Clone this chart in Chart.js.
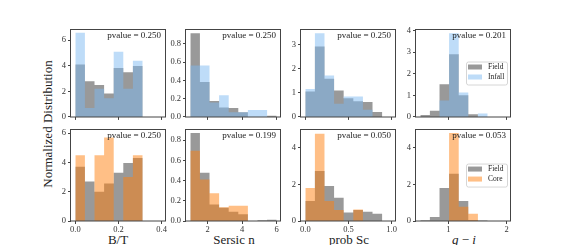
<!DOCTYPE html>
<html>
<head>
<meta charset="utf-8">
<script src="https://cdn.jsdelivr.net/npm/chart.js@4.4.1/dist/chart.umd.min.js"></script>
<style>
  body { margin: 0; background: #fff; width: 568px; height: 245px; overflow: hidden; position: relative; font-family: "Liberation Serif", serif; }
  canvas { position: absolute; }
  .lbl { position: absolute; font-size: 13px; line-height: 13px; color: #222; white-space: nowrap; }
</style>
</head>
<body>
<div class="lbl" id="ylab" style="left:47px;top:124px;transform:translate(-50%,-50%) rotate(-90deg);">Normalized Distribution</div>
<div class="lbl" style="left:118px;top:233px;transform:translateX(-50%);">B/T</div>
<div class="lbl" style="left:234px;top:233px;transform:translateX(-50%);">Sersic n</div>
<div class="lbl" style="left:349px;top:233px;transform:translateX(-50%);">prob Sc</div>
<div class="lbl" style="left:464px;top:233px;transform:translateX(-50%);"><i>g</i> &minus; <i>i</i></div>
<script>
// bin edges for each variable
const btEdges = [0, 0.0444, 0.0889, 0.1333, 0.1778, 0.2222, 0.2667, 0.3111, 0.3556, 0.4];
const sersicEdges = [1, 1.556, 2.111, 2.667, 3.222, 3.778, 4.333, 4.889, 5.444, 6];
const probScEdges = [0, 0.111, 0.222, 0.333, 0.444, 0.556, 0.667, 0.778, 0.889, 1];
const giEdges = [0.52, 0.684, 0.849, 1.013, 1.178, 1.342, 1.507, 1.671, 1.836, 2.0];

// top row: Field vs Infall
const btField = [4.1, 2.78, 2.5, 1.83, 3.83, 3.48, 3.98, 0, 0];
const btInfall = [6.58, 0.7, 2.2, 1.45, 5.1, 2.2, 4.38, 0, 0];
const sersicField = [0.918, 0.383, 0.174, 0.104, 0.097, 0.052, 0, 0, 0.013];
const sersicInfall = [0.563, 0.563, 0.157, 0.237, 0.052, 0.052, 0.077, 0.077, 0];
const probScField = [1.06, 2.93, 1.59, 1.1, 0.78, 0.65, 0.62, 0.2, 0];
const probScInfall = [1.16, 3.49, 1.73, 0.55, 0.85, 0.85, 0.3, 0, 0];
const giField = [0.09, 0.29, 1.51, 2.9, 1.0, 0.12, 0, 0, 0];
const giInfall = [0, 0, 0.76, 3.88, 1.13, 0, 0.16, 0, 0];

// bottom row: Field vs Core
const btField2 = [3.7, 2.69, 2.0, 2.55, 3.3, 3.95, 4.29, 0, 0];
const btCore = [4.49, 0, 4.49, 5.69, 0, 3.0, 4.49, 0, 0];
const sersicField2 = [0.869, 0.477, 0.163, 0.13, 0.091, 0.066, 0, 0.008, 0.013];
const sersicCore = [0.693, 0.41, 0.275, 0.137, 0.15, 0.15, 0, 0, 0];
const probScField2 = [1.09, 2.73, 1.92, 1.27, 0.47, 0.6, 0.51, 0.4, 0];
const probScCore = [1.81, 4.78, 1.09, 0.6, 0, 0.63, 0, 0, 0];
const giField2 = [0.04, 0.22, 1.81, 2.59, 1.1, 0.05, 0.03, 0, 0];
const giCore = [0, 0, 0, 4.81, 0.78, 0.4, 0, 0, 0];

const pvaluesTop = ["0.250", "0.250", "0.250", "0.201"];
const pvaluesBottom = ["0.250", "0.199", "0.050", "0.053"];

const grayCol = "rgba(128,128,128,0.8)";
const blueCol = "rgba(125,185,241,0.5)";
const orangeCol = "rgba(255,127,14,0.5)";
const axisCol = "#444";
const fontFam = "'Liberation Serif', serif";

const colX = [71, 186, 301, 416];
const rowY = [28, 128];
const panelW = 95;
const panelH = [92, 93];
const yAxisW = 24;
const padTop = 6, padRight = 6;

// histogram outline points: one per bin edge, last edge repeats last height
function histPoints(edges, vals) {
  const pts = vals.map((v, i) => ({ x: edges[i], y: v }));
  pts.push({ x: edges[edges.length - 1], y: vals[vals.length - 1] });
  return pts;
}

const framePlugin = {
  id: "frame",
  afterDraw(chart, args, opts) {
    const ctx = chart.ctx;
    const a = chart.chartArea;
    ctx.save();
    ctx.strokeStyle = axisCol;
    ctx.lineWidth = 1;
    ctx.strokeRect(Math.round(a.left) - 0.5, Math.round(a.top) + 0.5, Math.round(a.right - a.left), Math.round(a.bottom - a.top) - 0.5);
    ctx.fillStyle = "#222";
    ctx.font = "9px " + fontFam;
    ctx.textAlign = "right";
    ctx.textBaseline = "middle";
    ctx.fillText("pvalue = " + opts.pvalue, a.right - 5, a.top + 6.5);
    if (opts.legend) {
      const bw = 41, bh = 23;
      const bx = a.right - 4 - bw;
      const by = (a.top + a.bottom) / 2 - bh / 2;
      ctx.fillStyle = "rgba(255,255,255,0.8)";
      ctx.strokeStyle = "#ccc";
      ctx.lineWidth = 0.8;
      ctx.beginPath();
      ctx.roundRect(bx + 0.5, by + 0.5, bw, bh, 2);
      ctx.fill();
      ctx.stroke();
      ctx.font = "7.5px " + fontFam;
      ctx.textAlign = "left";
      chart.data.datasets.forEach((ds, i) => {
        const ry = by + 3 + i * 10;
        ctx.fillStyle = "#fff";
        ctx.fillRect(bx + 2, ry, 14, 5);
        ctx.fillStyle = ds.backgroundColor;
        ctx.fillRect(bx + 2, ry, 14, 5);
        ctx.fillStyle = "#222";
        ctx.fillText(ds.label, bx + 22, ry + 2.5);
      });
    }
    ctx.restore();
  }
};

function makePanel(row, col, cfg) {
  const xAxisH = row === 0 ? 4 : 14;
  const cv = document.createElement("canvas");
  const w = yAxisW + panelW + padRight;
  const h = padTop + panelH[row] + xAxisH;
  cv.width = w;
  cv.height = h;
  cv.style.left = (colX[col] - yAxisW) + "px";
  cv.style.top = (rowY[row] - padTop) + "px";
  cv.style.width = w + "px";
  cv.style.height = h + "px";
  document.body.appendChild(cv);
  const histStyle = { stepped: true, fill: "origin", pointRadius: 0, borderWidth: 0, borderColor: "rgba(0,0,0,0)" };
  new Chart(cv, {
    type: "line",
    data: {
      datasets: [
        { label: "Field", data: histPoints(cfg.edges, cfg.field), backgroundColor: grayCol, order: 2, ...histStyle },
        { label: cfg.otherName, data: histPoints(cfg.edges, cfg.other), backgroundColor: cfg.otherCol, order: 1, ...histStyle }
      ]
    },
    options: {
      responsive: false,
      animation: false,
      devicePixelRatio: 1,
      layout: { padding: { top: padTop, right: padRight, left: 0, bottom: 0 } },
      plugins: {
        legend: { display: false },
        tooltip: { enabled: false },
        frame: { pvalue: cfg.pvalue, legend: cfg.legend }
      },
      scales: {
        x: {
          type: "linear",
          min: cfg.xmin,
          max: cfg.xmax,
          afterFit: (s) => { s.height = xAxisH; },
          border: { display: false },
          grid: { drawOnChartArea: false, drawTicks: true, tickLength: 3, color: axisCol },
          ticks: {
            display: row === 1,
            stepSize: cfg.xstep,
            includeBounds: false,
            maxRotation: 0,
            padding: 1,
            color: "#333",
            font: { family: fontFam, size: 8.5 },
            callback: (v) => v.toFixed(cfg.xdec)
          }
        },
        y: {
          min: 0,
          max: cfg.ymax,
          afterFit: (s) => { s.width = yAxisW; },
          border: { display: false },
          grid: { drawOnChartArea: false, drawTicks: true, tickLength: 3, color: axisCol },
          ticks: {
            stepSize: cfg.ystep,
            includeBounds: false,
            padding: 2,
            color: "#333",
            font: { family: fontFam, size: 8.5 },
            callback: (v) => v.toFixed(cfg.ydec)
          }
        }
      }
    },
    plugins: [framePlugin]
  });
}

const btX = { edges: btEdges, xmin: -0.02, xmax: 0.42, xstep: 0.2, xdec: 1 };
const sersicX = { edges: sersicEdges, xmin: 0.75, xmax: 6.25, xstep: 2, xdec: 0 };
const probScX = { edges: probScEdges, xmin: -0.05, xmax: 1.05, xstep: 0.5, xdec: 1 };
const giX = { edges: giEdges, xmin: 0.446, xmax: 2.074, xstep: 1, xdec: 0 };

makePanel(0, 0, { ...btX, field: btField, other: btInfall, otherName: "Infall", otherCol: blueCol, ymax: 6.86, ystep: 2, ydec: 0, pvalue: pvaluesTop[0] });
makePanel(0, 1, { ...sersicX, field: sersicField, other: sersicInfall, otherName: "Infall", otherCol: blueCol, ymax: 0.963, ystep: 0.2, ydec: 1, pvalue: pvaluesTop[1] });
makePanel(0, 2, { ...probScX, field: probScField, other: probScInfall, otherName: "Infall", otherCol: blueCol, ymax: 3.66, ystep: 1, ydec: 0, pvalue: pvaluesTop[2] });
makePanel(0, 3, { ...giX, field: giField, other: giInfall, otherName: "Infall", otherCol: blueCol, ymax: 4.07, ystep: 1, ydec: 0, pvalue: pvaluesTop[3], legend: true });

makePanel(1, 0, { ...btX, field: btField2, other: btCore, otherName: "Core", otherCol: orangeCol, ymax: 6.27, ystep: 2, ydec: 0, pvalue: pvaluesBottom[0] });
makePanel(1, 1, { ...sersicX, field: sersicField2, other: sersicCore, otherName: "Core", otherCol: orangeCol, ymax: 0.908, ystep: 0.2, ydec: 1, pvalue: pvaluesBottom[1] });
makePanel(1, 2, { ...probScX, field: probScField2, other: probScCore, otherName: "Core", otherCol: orangeCol, ymax: 5.03, ystep: 2, ydec: 0, pvalue: pvaluesBottom[2] });
makePanel(1, 3, { ...giX, field: giField2, other: giCore, otherName: "Core", otherCol: orangeCol, ymax: 5.03, ystep: 2, ydec: 0, pvalue: pvaluesBottom[3], legend: true });
</script>
</body>
</html>
